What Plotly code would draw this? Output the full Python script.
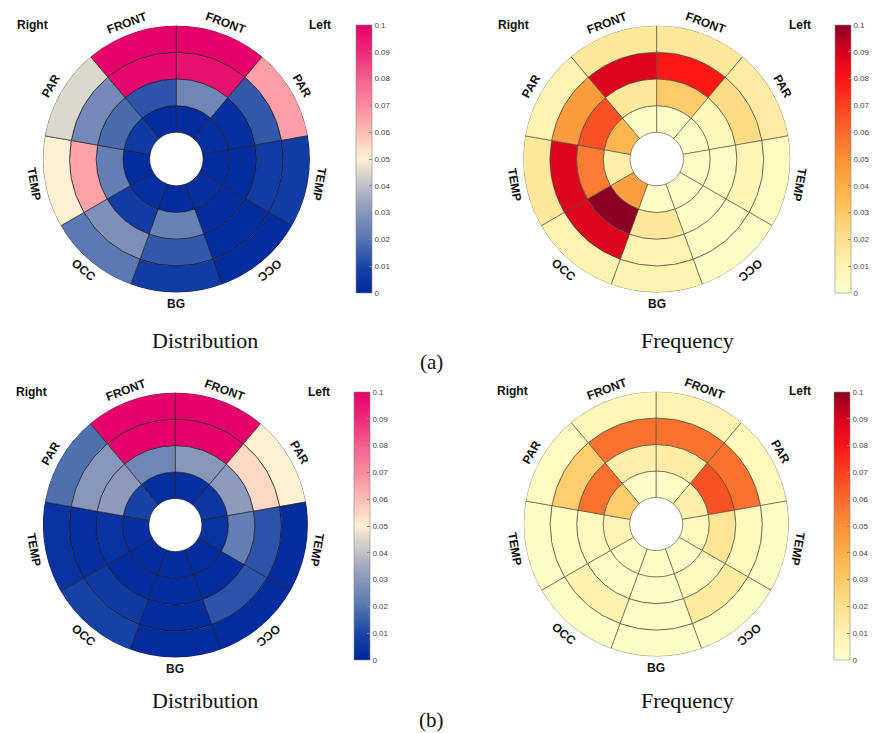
import plotly.graph_objects as go
import math

# ---------------- data ----------------
sector_names = ["FRONT", "FRONT", "PAR", "TEMP", "OCC", "BG", "OCC", "TEMP", "PAR"]
sector_angles = [110, 70, 30, 350, 310, 270, 230, 190, 150]
sector_width = 40
ring_bases = [1, 2, 3, 4]          # ring 1 = innermost
hemisphere_labels = ["Right", "Left"]
tick_vals = [0, 0.01, 0.02, 0.03, 0.04, 0.05, 0.06, 0.07, 0.08, 0.09, 0.1]
tick_text = ["0", "0.01", "0.02", "0.03", "0.04", "0.05", "0.06", "0.07", "0.08", "0.09", "0.1"]
panel_titles = ["Distribution", "Frequency", "Distribution", "Frequency"]
row_labels = ["(a)", "(b)"]

# values per ring (inner -> outer), sectors in sector_angles order
dist_a = [
    [0.002, 0.002, 0.003, 0.002, 0.003, 0.002, 0.003, 0.002, 0.006],
    [0.013, 0.025, 0.003, 0.002, 0.002, 0.024, 0.007, 0.023, 0.018],
    [0.098, 0.096, 0.014, 0.007, 0.002, 0.014, 0.028, 0.065, 0.026],
    [0.100, 0.100, 0.066, 0.007, 0.002, 0.007, 0.021, 0.050, 0.045],
]
freq_a = [
    [0.002, 0.002, 0.002, 0.002, 0.002, 0.002, 0.045, 0.012, 0.037],
    [0.016, 0.029, 0.007, 0.003, 0.002, 0.016, 0.100, 0.055, 0.066],
    [0.088, 0.079, 0.022, 0.008, 0.002, 0.010, 0.088, 0.088, 0.046],
    [0.016, 0.016, 0.014, 0.004, 0.002, 0.010, 0.010, 0.016, 0.010],
]
dist_b = [
    [0.003, 0.003, 0.005, 0.004, 0.002, 0.002, 0.002, 0.003, 0.009],
    [0.025, 0.030, 0.031, 0.023, 0.002, 0.002, 0.002, 0.004, 0.031],
    [0.100, 0.100, 0.055, 0.013, 0.013, 0.002, 0.006, 0.003, 0.030],
    [0.100, 0.100, 0.050, 0.002, 0.002, 0.002, 0.009, 0.004, 0.019],
]
freq_b = [
    [0.002, 0.002, 0.012, 0.006, 0.002, 0.002, 0.002, 0.009, 0.028],
    [0.012, 0.013, 0.066, 0.018, 0.005, 0.002, 0.002, 0.005, 0.058],
    [0.058, 0.058, 0.058, 0.006, 0.015, 0.002, 0.011, 0.004, 0.028],
    [0.007, 0.010, 0.006, 0.002, 0.002, 0.002, 0.002, 0.002, 0.004],
]

# ---------------- styles ----------------
dist_scale = [
    [0.0, "#00269c"], [0.1, "#1a45a6"], [0.2, "#5575b0"], [0.3, "#8896bc"],
    [0.35, "#a4a8c0"], [0.4, "#c0c0c8"], [0.45, "#dcd8cc"], [0.5, "#fdf0d4"],
    [0.55, "#fdd8c4"], [0.6, "#fdbcb6"], [0.7, "#fb8a9e"], [0.8, "#f4608e"],
    [0.9, "#ec2a78"], [1.0, "#e6006a"],
]
freq_scale = [
    [0.0, "#ffffcc"], [0.1, "#fff3b2"], [0.2, "#fee08e"], [0.3, "#fec966"],
    [0.4, "#fead47"], [0.5, "#fd9036"], [0.6, "#fb6a2c"], [0.7, "#fa4020"],
    [0.8, "#fb1414"], [0.9, "#d80020"], [1.0, "#8b0022"],
]

W, H = 873, 733
SANS = "Liberation Sans"
SERIF = "Liberation Serif"

panels = [
    dict(vals=dist_a, scale=dist_scale, cx=177, cy=159, R=134, cbx=357, cbtop=25, line="#1a1a1a"),
    dict(vals=freq_a, scale=freq_scale, cx=659, cy=159, R=134, cbx=838, cbtop=25, line="#4a4a3a"),
    dict(vals=dist_b, scale=dist_scale, cx=176, cy=525, R=133, cbx=355, cbtop=392, line="#1a1a1a"),
    dict(vals=freq_b, scale=freq_scale, cx=658.5, cy=524, R=133, cbx=837, cbtop=392, line="#4a4a3a"),
]

fig = go.Figure()
annotations = []
layout_polars = {}

for i, p in enumerate(panels):
    key = "polar" if i == 0 else f"polar{i+1}"
    r_list, th_list, base_list, col_list = [], [], [], []
    for ring_i, ring_vals in enumerate(p["vals"]):
        for s_i, v in enumerate(ring_vals):
            r_list.append(1)
            th_list.append(sector_angles[s_i])
            base_list.append(ring_bases[ring_i])
            col_list.append(v)
    cb_len = 268
    fig.add_trace(go.Barpolar(
        r=r_list, theta=th_list, base=base_list,
        width=[sector_width] * len(r_list),
        subplot=key,
        marker=dict(
            color=col_list, colorscale=p["scale"], cmin=0, cmax=0.1,
            line=dict(color=p["line"], width=0.6),
            showscale=True,
            colorbar=dict(
                x=p["cbx"] / W, xanchor="left", xref="paper",
                y=1 - (p["cbtop"] + cb_len / 2) / H, yanchor="middle", yref="paper",
                len=cb_len, lenmode="pixels", thickness=16, thicknessmode="pixels",
                xpad=0, ypad=0,
                tickvals=tick_vals, ticktext=tick_text,
                ticks="inside", ticklen=3, tickwidth=0.6, tickcolor="#888",
                tickfont=dict(family=SANS, size=8, color="#444"),
                outlinecolor="#888", outlinewidth=0.6,
            ),
        ),
        hoverinfo="skip",
        showlegend=False,
    ))
    cx, cy, R = p["cx"], p["cy"], p["R"]
    layout_polars[key] = dict(
        domain=dict(x=[(cx - R) / W, (cx + R) / W], y=[1 - (cy + R) / H, 1 - (cy - R) / H]),
        bgcolor="rgba(0,0,0,0)",
        radialaxis=dict(range=[0, 5], visible=False, showgrid=False),
        angularaxis=dict(visible=False, showgrid=False, rotation=0, direction="counterclockwise"),
    )
    # region labels (tangential text)
    rl = R * 5.42 / 5
    for name, ang in zip(sector_names, sector_angles):
        rot = 90 - ang
        while rot >= 180:
            rot -= 360
        while rot < -180:
            rot += 360
        if rot < -90 or rot == -180:
            rot += 180
        x_px = cx + rl * math.cos(math.radians(ang))
        y_px = cy - rl * math.sin(math.radians(ang))
        annotations.append(dict(
            x=x_px / W, y=1 - y_px / H, xref="paper", yref="paper",
            text=f"<b>{name}</b>", showarrow=False, textangle=rot,
            xanchor="center", yanchor="middle",
            font=dict(family=SANS, size=12, color="#111"),
        ))
    # hemisphere labels
    for lab, sgn in zip(hemisphere_labels, [-1, 1]):
        annotations.append(dict(
            x=(cx + sgn * 144) / W, y=1 - (cy - R) / H, xref="paper", yref="paper",
            text=f"<b>{lab}</b>", showarrow=False,
            xanchor="center", yanchor="middle",
            font=dict(family=SANS, size=12, color="#111"),
        ))

# panel titles
title_pos = [(206, 340), (690, 340), (206, 700), (690, 700)]
for t, (tx, ty) in zip(panel_titles, title_pos):
    annotations.append(dict(
        x=tx / W, y=1 - ty / H, xref="paper", yref="paper", text=t, showarrow=False,
        xanchor="center", yanchor="middle",
        font=dict(family=SERIF, size=22, color="#111"),
    ))
for t, (tx, ty) in zip(row_labels, [(433, 362), (433, 720)]):
    annotations.append(dict(
        x=tx / W, y=1 - ty / H, xref="paper", yref="paper", text=t, showarrow=False,
        xanchor="center", yanchor="middle",
        font=dict(family=SERIF, size=21, color="#111"),
    ))

fig.update_layout(
    width=W, height=H, autosize=False,
    margin=dict(l=0, r=0, t=0, b=0, pad=0),
    paper_bgcolor="white", plot_bgcolor="white",
    annotations=annotations,
    **layout_polars,
)

fig.write_html(
    "out.html",
    config={"displayModeBar": False},
    post_script="document.body.style.margin='0';document.body.style.overflow='hidden';",
)
